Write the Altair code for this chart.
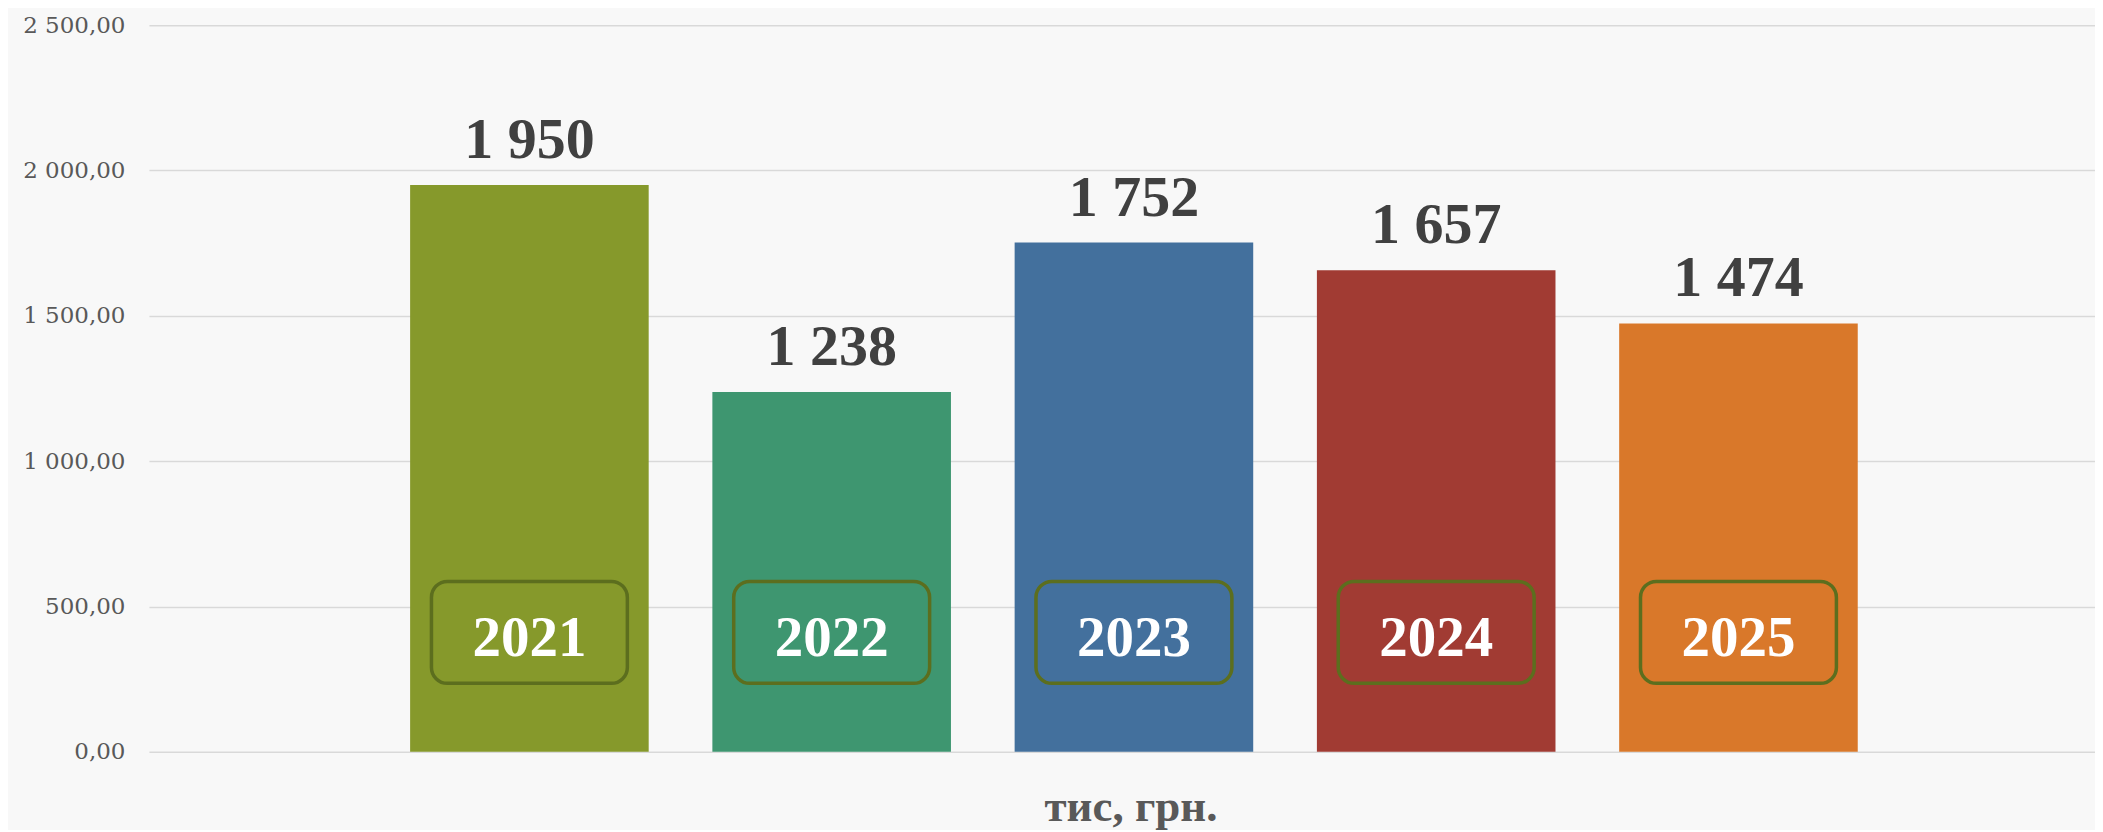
import altair as alt
import pandas as pd

years = ["2021", "2022", "2023", "2024", "2025"]
values = [1950, 1238, 1752, 1657, 1474]
colors = ["#86992B", "#3E9670", "#43709D", "#A13B33", "#D9782A"]
y_ticks = [0, 500, 1000, 1500, 2000, 2500]
x_title = "тис, грн."

df = pd.DataFrame({
    "year": years,
    "value": values,
    "label": [f"{v:,}".replace(",", " ") for v in values],
})

x_enc = alt.X(
    "year:N",
    sort=years,
    scale=alt.Scale(paddingInner=0.2107, paddingOuter=0.8245, align=0.524),
    axis=alt.Axis(
        labels=False, ticks=False, domain=False, grid=False,
        title=x_title, titleFont="Liberation Serif", titleFontSize=45,
        titleFontWeight="bold", titleColor="#595959",
        titleBaseline="alphabetic", titlePadding=69, titleX=982,
    ),
)

base = alt.Chart(df)

bars = base.mark_bar().encode(
    x=x_enc,
    y=alt.Y(
        "value:Q",
        scale=alt.Scale(domain=[0, 2500], nice=False),
        axis=alt.Axis(
            values=y_ticks, title=None, ticks=False, domain=False,
            grid=True, gridColor="#d9d9d9", gridWidth=1.5,
            labelFont="DejaVu Serif", labelFontSize=23, labelColor="#595959",
            labelPadding=24,
            labelExpr="replace(replace(format(datum.value, ',.2f'), ',', ' '), '.', ',')",
        ),
    ),
    color=alt.Color("year:N", scale=alt.Scale(domain=years, range=colors), legend=None),
)

labels = base.mark_text(
    font="Liberation Serif", fontSize=58, fontWeight="bold", color="#404040",
    baseline="alphabetic", dy=-27,
).encode(x=alt.X("year:N", sort=years), y="value:Q", text="label:N")

boxes = base.mark_bar(
    width=196, cornerRadius=16, fill="transparent", stroke="#5C6E1E", strokeWidth=3.5,
).encode(x=alt.X("year:N", sort=years), y=alt.value(556.5), y2=alt.value(658.5))

year_text = base.mark_text(
    font="Liberation Serif", fontSize=57, fontWeight="bold", color="white",
    baseline="alphabetic",
).encode(x=alt.X("year:N", sort=years), y=alt.value(631.5), text="year:N")

chart = alt.layer(bars, labels, boxes, year_text).properties(
    width=1947, height=727,
    padding={"left": 14, "top": 6, "right": 0, "bottom": 0},
    background="#f8f8f8",
).configure_view(stroke=None)

chart.save("out.html", embed_options={"renderer": "svg", "actions": False})
